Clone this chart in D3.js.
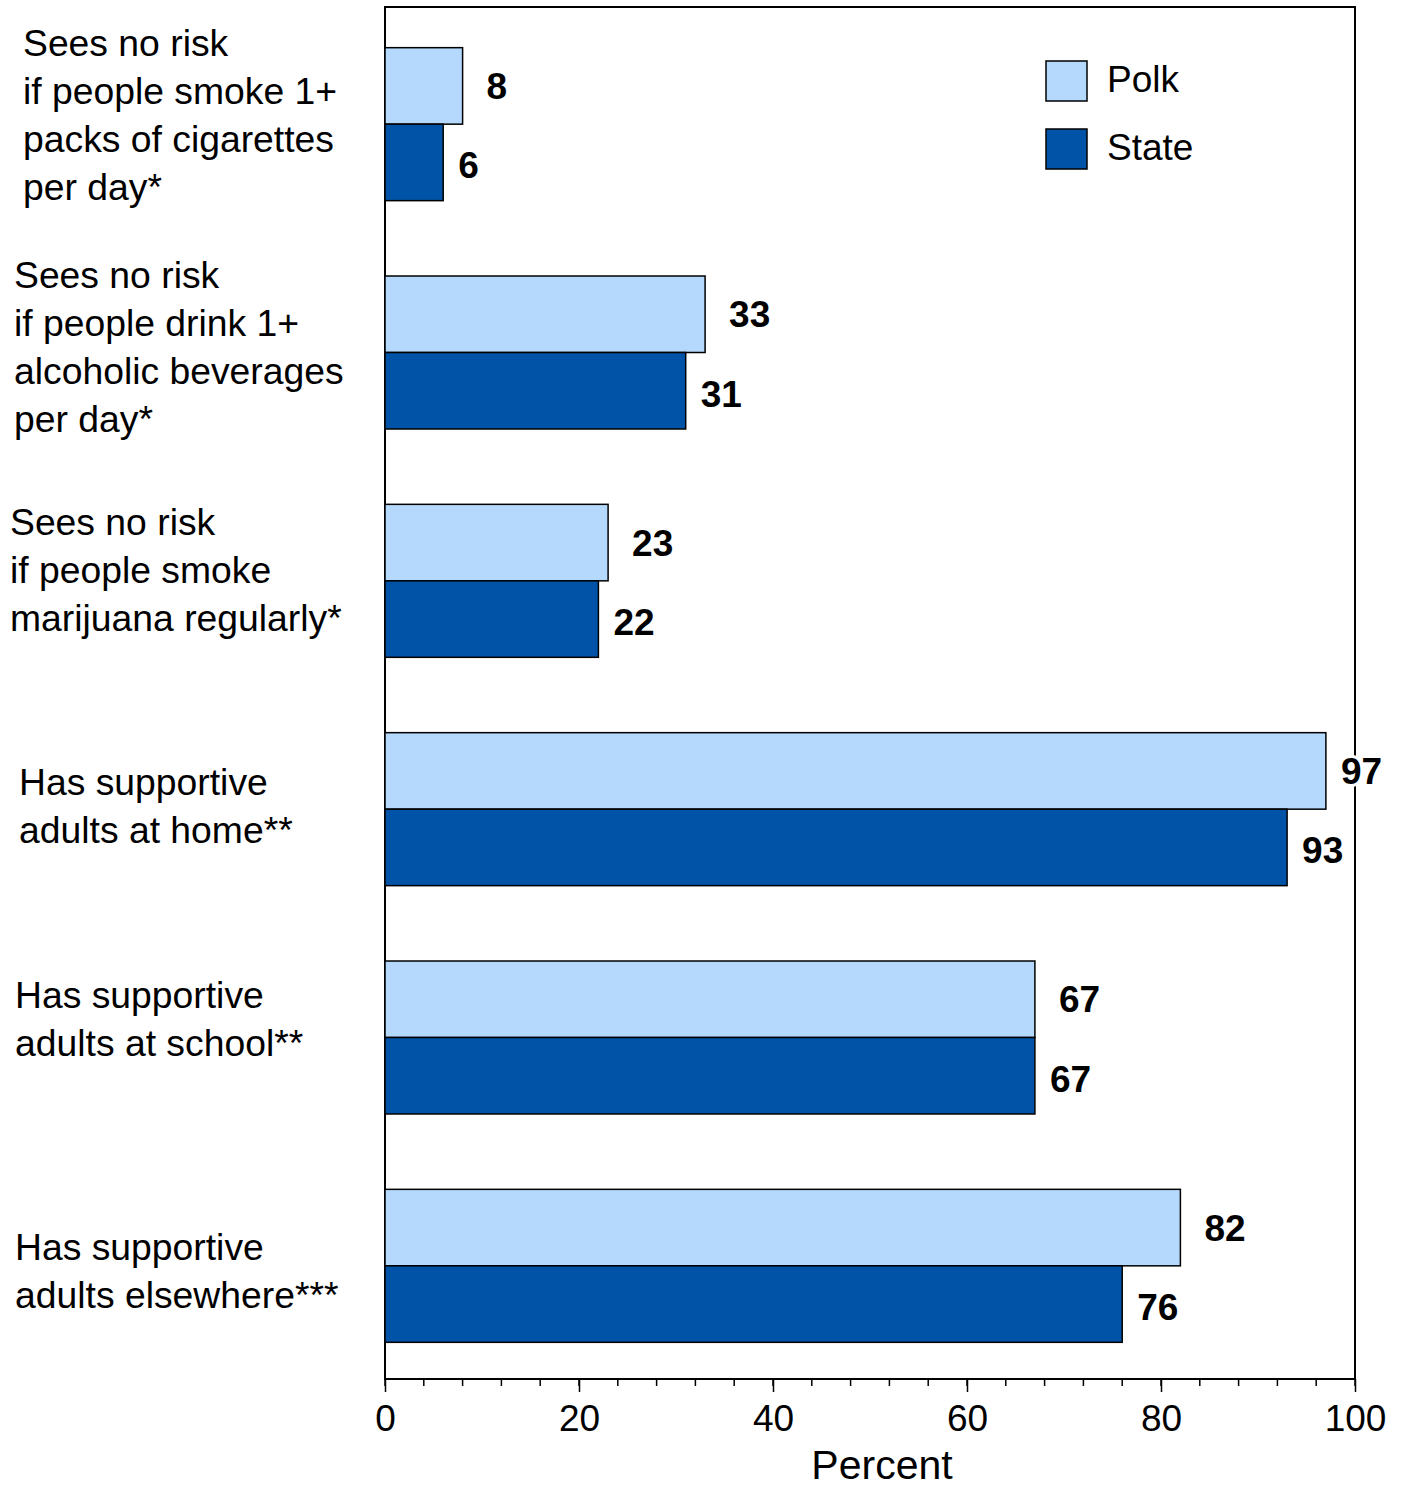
<!DOCTYPE html>
<html>
<head>
<meta charset="utf-8">
<script src="https://cdn.jsdelivr.net/npm/d3@7"></script>
<style>
  html, body { margin: 0; padding: 0; background: #fff; }
  svg text { font-family: "Liberation Sans", Arial, sans-serif; }
</style>
</head>
<body>
<svg id="chart" width="1402" height="1489"></svg>
<script>
// ---- data ----
const categories = [
  ["Sees no risk", "if people smoke 1+", "packs of cigarettes", "per day*"],
  ["Sees no risk", "if people drink 1+", "alcoholic beverages", "per day*"],
  ["Sees no risk", "if people smoke", "marijuana regularly*"],
  ["Has supportive", "adults at home**"],
  ["Has supportive", "adults at school**"],
  ["Has supportive", "adults elsewhere***"]
];
const seriesNames = ["Polk", "State"];
const polkValues = [8, 33, 23, 97, 67, 82];
const stateValues = [6, 31, 22, 93, 67, 76];
const xTickValues = [0, 20, 40, 60, 80, 100];
const xAxisTitle = "Percent";

// ---- layout (not data) ----
const colors = { Polk: "#b4d9fd", State: "#0053a6" };
const labelLayout = [[23, -9], [14, -6], [10, -11], [19, -3], [15, -19], [15, 5]];
const plotLeft = 385, plotRight = 1355, plotTop = 7, plotBottom = 1379;

const svg = d3.select("#chart");
const x = d3.scaleLinear().domain([0, 100]).range([plotLeft, plotRight]);
const y0 = d3.scaleBand().domain(d3.range(categories.length)).range([plotTop + 3, plotBottom + 1])
  .paddingInner(0.33).paddingOuter(0.165);
const y1 = d3.scaleBand().domain(seriesNames).range([0, y0.bandwidth()]);

const rows = categories.map((c, i) => ({ i, values: [
  { name: "Polk", v: polkValues[i] }, { name: "State", v: stateValues[i] }
]}));

// frame
svg.append("rect").attr("x", plotLeft).attr("y", plotTop).attr("width", plotRight - plotLeft).attr("height", plotBottom - plotTop)
  .attr("fill", "none").attr("stroke", "#000").attr("stroke-width", 2);

// minor ticks
const minor = d3.range(0, 101, 4);
svg.append("g").selectAll("line").data(minor).join("line")
  .attr("x1", d => x(d)).attr("x2", d => x(d))
  .attr("y1", plotBottom).attr("y2", plotBottom + 7)
  .attr("stroke", "#000").attr("stroke-width", 1.5);

// major axis
const axis = svg.append("g").attr("transform", `translate(0,${plotBottom})`)
  .call(d3.axisBottom(x).tickValues(xTickValues).tickSize(13).tickPadding(13).tickFormat(d3.format("d")));
axis.select(".domain").remove();
axis.selectAll(".tick line").attr("stroke", "#000").attr("stroke-width", 1.5);
axis.selectAll(".tick text").attr("font-size", 37).attr("fill", "#000")
  .attr("font-family", "Liberation Sans, Arial, sans-serif");

svg.append("text").attr("x", (plotLeft + plotRight) / 2 + 12).attr("y", 1479)
  .attr("text-anchor", "middle").attr("font-size", 41).text(xAxisTitle);

// bars
const groups = svg.append("g").selectAll("g").data(rows).join("g")
  .attr("transform", d => `translate(0,${y0(d.i)})`);
groups.selectAll("rect").data(d => d.values).join("rect")
  .attr("x", x(0)).attr("y", d => y1(d.name))
  .attr("width", d => x(d.v) - x(0)).attr("height", y1.bandwidth())
  .attr("fill", d => colors[d.name]).attr("stroke", "#000").attr("stroke-width", 1.5);

// value labels
groups.selectAll("text.val").data(d => d.values).join("text")
  .attr("class", "val")
  .attr("x", d => {
    const off = d.name === "Polk" && x(d.v) + 70 < 1402 - 30 ? 24 : 15;
    return x(d.v) + off;
  })
  .attr("y", d => y1(d.name) + y1.bandwidth() / 2 + (d.name === "Polk" ? 0 : 3))
  .attr("dy", "0.35em")
  .attr("font-size", 37).attr("font-weight", "bold")
  .attr("paint-order", "stroke").attr("stroke", "#fff").attr("stroke-width", 6)
  .text(d => d.v);

// category labels
const catG = svg.append("g").selectAll("text").data(categories).join("text")
  .attr("font-size", 37.3)
  .attr("transform", (d, i) => {
    const cy = y0(i) + y0.bandwidth() / 2 + labelLayout[i][1];
    const startY = cy - (d.length - 1) * 48 / 2;
    return `translate(${labelLayout[i][0]},${startY})`;
  });
catG.selectAll("tspan").data(d => d).join("tspan")
  .attr("x", 0).attr("y", (d, j) => j * 48).attr("dy", "0.35em").text(d => d);

// legend
const leg = svg.append("g").selectAll("g").data(seriesNames).join("g")
  .attr("transform", (d, i) => `translate(1046,${61 + i * 68})`);
leg.append("rect").attr("width", 41).attr("height", 40)
  .attr("fill", d => colors[d]).attr("stroke", "#000").attr("stroke-width", 1.5);
leg.append("text").attr("x", 61).attr("y", 18).attr("dy", "0.35em")
  .attr("font-size", 37).text(d => d);
</script>
</body>
</html>
